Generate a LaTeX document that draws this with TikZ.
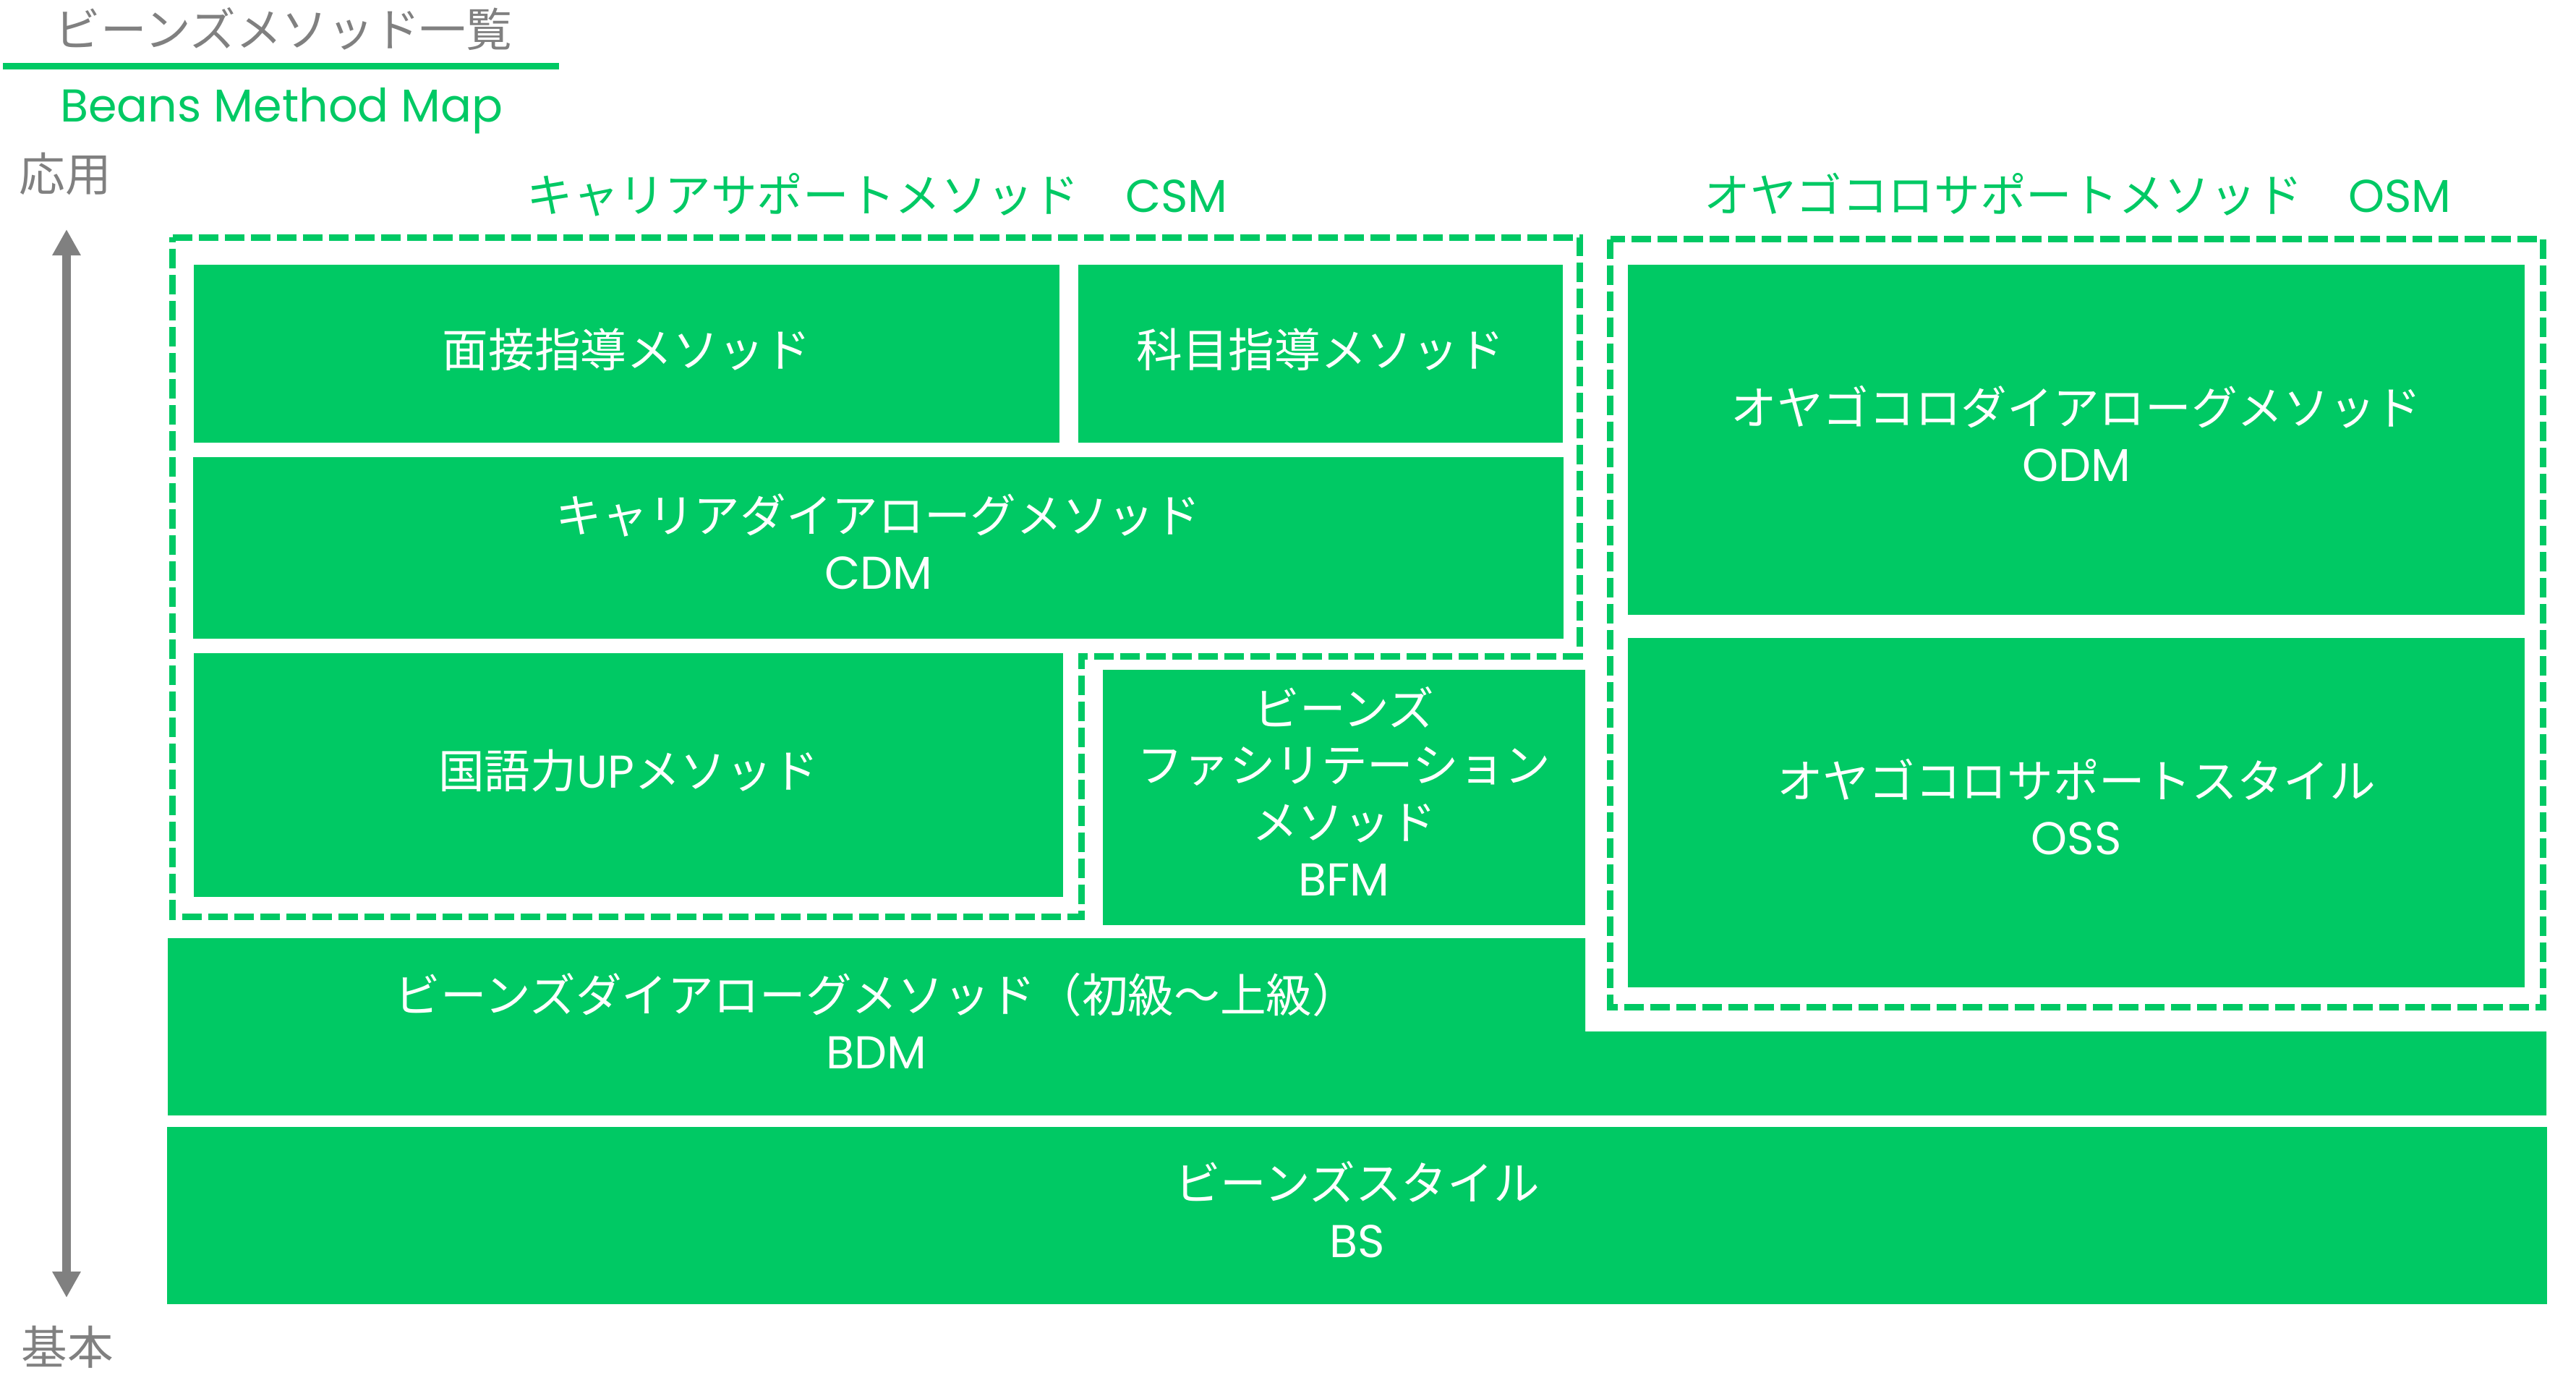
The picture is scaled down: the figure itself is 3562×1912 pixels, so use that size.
\documentclass[tikz,border=0pt]{standalone}
\usepackage{fontspec}
\setmainfont{Poppins}
\newfontfamily\jp{Noto Sans CJK JP}
\usetikzlibrary{shapes,arrows.meta}
\definecolor{beans}{HTML}{00C964}
\definecolor{axisgray}{HTML}{808080}
\tikzstyle{block} = [rectangle, fill=beans, text=white, align=center, text depth=0.17cm,
inner sep=0pt, outer sep=0pt, font=\fontsize{18.1pt}{22.2pt}\selectfont]
\tikzstyle{frame} = [draw=beans, line width=0.09cm, dash pattern=on 0.27cm off 0.09cm]
\tikzstyle{heading} = [text=beans, font=\fontsize{18.1pt}{22.2pt}\selectfont]
\tikzstyle{level} = [text=axisgray, font=\fontsize{18.1pt}{22.2pt}\selectfont]
\tikzstyle{levelarrow} = [draw=axisgray, line width=0.11cm,
{Triangle[length=0.36cm,width=0.37cm]}-{Triangle[length=0.36cm,width=0.37cm]}]
\tikzstyle{rule} = [draw=beans, line width=0.09cm]

\begin{document}
\begin{tikzpicture}[x=0.01cm, y=-0.01cm]
\useasboundingbox (0,0) rectangle (3562,1912);
% Title
\node [level] (title) at (392,40) {\jp ビーンズメソッド一覧};
\coordinate (rulel) at (4,91.5);
\coordinate (ruler) at (773,91.5);
\path [rule] (rulel) -- (ruler);
\node [heading, anchor=base] (map) at (389.5,168) {Beans Method Map};
% Axis
\node [level] (ouyou) at (90,240) {\jp 応用};
\node [level] (kihon) at (93,1862) {\jp 基本};
\coordinate (high) at (92,317);
\coordinate (low) at (92,1794);
\path [levelarrow] (high) -- (low);
% Groups
\node [heading, anchor=base] (csm) at (1213,293) {{\jp キャリアサポートメソッド　}CSM};
\node [heading, anchor=base] (osm) at (2873,293) {{\jp オヤゴコロサポートメソッド　}OSM};
\path [frame] (238.5,328) -- (2184.5,328) -- (2184.5,907) -- (1495,907)
  -- (1495,1267) -- (238.5,1267) -- cycle;
\path [frame] (2226.5,330.5) rectangle (3516.5,1392);
% Place nodes
\node [block, minimum width=11.97cm, minimum height=2.46cm] (mensetsu) at (866.5,489)
  {\jp 面接指導メソッド};
\node [block, minimum width=6.70cm, minimum height=2.46cm] (kamoku) at (1826,489)
  {\jp 科目指導メソッド};
\node [block, minimum width=18.93cm, minimum height=2.51cm] (cdm) at (1214.5,757.5)
  {{\jp キャリアダイアローグメソッド}\\CDM};
\node [block, minimum width=12.02cm, minimum height=3.37cm] (kokugo) at (869,1071.5)
  {{\jp 国語力}UP{\jp メソッド}};
\node [block, minimum width=6.67cm, minimum height=3.53cm] (bfm) at (1858.5,1102.5)
  {{\jp ビーンズ}\\{\jp ファシリテーション}\\{\jp メソッド}\\BFM};
\node [block, minimum width=12.40cm, minimum height=4.84cm] (odm) at (2871,608)
  {{\jp オヤゴコロダイアローグメソッド}\\ODM};
\node [block, minimum width=12.40cm, minimum height=4.83cm] (oss) at (2871,1123.5)
  {{\jp オヤゴコロサポートスタイル}\\OSS};
\fill [beans] (232,1297) -- (2192,1297) -- (2192,1426) -- (3521,1426)
  -- (3521,1542) -- (232,1542) -- cycle;
\node [block] (bdm) at (1212,1419.5)
  {{\jp ビーンズダイアローグメソッド（初級～上級）}\\BDM};
\node [block, minimum width=32.89cm, minimum height=2.45cm] (bs) at (1876.5,1680.5)
  {{\jp ビーンズスタイル}\\BS};
\end{tikzpicture}
\end{document}
